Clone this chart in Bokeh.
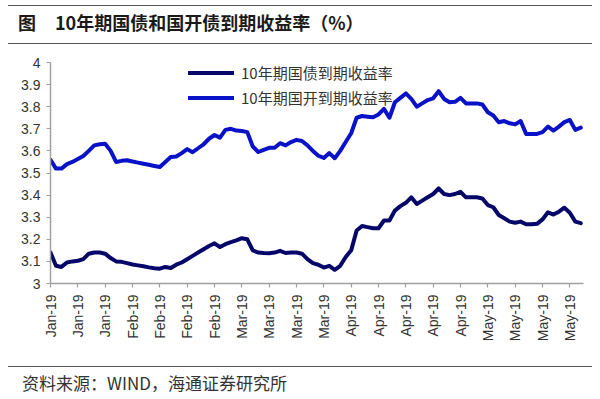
import math
from bokeh.plotting import figure
from bokeh.models import Range1d, FixedTicker, Div, Legend, LegendItem
from bokeh.layouts import column
from bokeh.embed import file_html
from bokeh.resources import INLINE

# ---- data ----
tick_labels = ["Jan-19", "Jan-19", "Jan-19", "Feb-19", "Feb-19", "Feb-19", "Feb-19",
               "Mar-19", "Mar-19", "Mar-19", "Mar-19", "Apr-19", "Apr-19", "Apr-19",
               "Apr-19", "Apr-19", "May-19", "May-19", "May-19", "May-19"]
tick_step = 5

gov_10y = [3.14, 3.08, 3.075, 3.095, 3.10, 3.103, 3.11, 3.135, 3.14, 3.14,
           3.135, 3.115, 3.10, 3.098, 3.092, 3.086, 3.082, 3.078, 3.073, 3.069,
           3.067, 3.075, 3.07, 3.085, 3.095, 3.11, 3.125, 3.14, 3.155, 3.17,
           3.182, 3.165, 3.178, 3.187, 3.195, 3.205, 3.20, 3.15, 3.14, 3.138,
           3.137, 3.14, 3.148, 3.138, 3.14, 3.14, 3.135, 3.11, 3.092, 3.085,
           3.072, 3.08, 3.062, 3.08, 3.12, 3.15, 3.24, 3.26, 3.255, 3.25,
           3.25, 3.285, 3.285, 3.33, 3.35, 3.365, 3.39, 3.36, 3.375, 3.39,
           3.405, 3.43, 3.405, 3.40, 3.405, 3.415, 3.39, 3.39, 3.39, 3.385,
           3.355, 3.345, 3.31, 3.295, 3.28, 3.275, 3.28, 3.268, 3.268, 3.27,
           3.29, 3.322, 3.312, 3.325, 3.343, 3.32, 3.28, 3.273]

cdb_10y = [3.56, 3.52, 3.52, 3.54, 3.55, 3.563, 3.577, 3.60, 3.625, 3.63,
           3.632, 3.60, 3.55, 3.555, 3.558, 3.552, 3.547, 3.542, 3.537, 3.532,
           3.527, 3.55, 3.572, 3.575, 3.59, 3.608, 3.594, 3.612, 3.63, 3.655,
           3.672, 3.66, 3.695, 3.70, 3.692, 3.69, 3.685, 3.62, 3.595, 3.605,
           3.614, 3.614, 3.635, 3.625, 3.64, 3.65, 3.645, 3.625, 3.60, 3.578,
           3.568, 3.59, 3.567, 3.60, 3.64, 3.68, 3.75, 3.758, 3.755, 3.752,
           3.765, 3.79, 3.75, 3.82, 3.84, 3.86, 3.835, 3.80, 3.815, 3.83,
           3.838, 3.87, 3.835, 3.82, 3.822, 3.84, 3.815, 3.815, 3.815, 3.81,
           3.775, 3.76, 3.73, 3.735, 3.725, 3.72, 3.735, 3.677, 3.677, 3.677,
           3.685, 3.71, 3.692, 3.71, 3.73, 3.74, 3.695, 3.705]

series_names = ["10年期国债到期收益率", "10年期国开到期收益率"]
title_text = "10年期国债和国开债到期收益率（%）"
source_text = "资料来源：WIND，海通证券研究所"

x = list(range(len(gov_10y)))

p = figure(width=600, height=322, output_backend="svg", toolbar_location=None,
           x_range=Range1d(0, 97.5), y_range=Range1d(3, 4),
           min_border_left=50, min_border_right=17, min_border_top=18, min_border_bottom=83)
p.outline_line_color = None
p.grid.grid_line_color = None
p.background_fill_color = "white"

r1 = p.line(x, gov_10y, line_color="#07076a", line_width=4, line_join="round", line_cap="round")
r2 = p.line(x, cdb_10y, line_color="#0a12c8", line_width=4, line_join="round", line_cap="round")

ticks = [i * tick_step for i in range(len(tick_labels))]
p.xaxis.ticker = FixedTicker(ticks=ticks)
p.xaxis.major_label_overrides = {t: lab for t, lab in zip(ticks, tick_labels)}
p.xaxis.major_label_orientation = math.pi / 2
yt = [3 + i * 0.1 for i in range(11)]
p.yaxis.ticker = FixedTicker(ticks=yt)
p.yaxis.major_label_overrides = {v: ("3" if i == 0 else ("4" if i == 10 else f"{v:.1f}")) for i, v in enumerate(yt)}

for ax in (p.xaxis, p.yaxis):
    ax.axis_line_color = "#a0a0a0"
    ax.axis_line_width = 1.5
    ax.major_tick_line_color = "#a0a0a0"
    ax.major_tick_line_width = 1.2
    ax.major_tick_in = 0
    ax.major_tick_out = 4
    ax.minor_tick_line_color = None
    ax.major_label_text_font = "Liberation Sans"
    ax.major_label_text_font_size = "14px"
    ax.major_label_text_color = "#333333"
p.xaxis.major_label_standoff = 7
p.yaxis.major_label_standoff = 6

legend = Legend(items=[LegendItem(label=series_names[0], renderers=[r1]),
                       LegendItem(label=series_names[1], renderers=[r2])],
                location=(138, 175), orientation="vertical",
                background_fill_alpha=0, border_line_alpha=0,
                padding=0, margin=0, spacing=4,
                glyph_width=46, glyph_height=19, label_height=19,
                label_standoff=7,
                label_text_font="Noto Sans CJK SC", label_text_font_size="15px",
                label_text_color="#333333")
p.add_layout(legend, "center")

title_div = Div(
    text=('<span>图</span><span style="margin-left:19px">' + title_text + '</span>'),
    width=584, height=39, margin=(5, 8, 0, 8),
    styles={"border-top": "1px solid #555", "border-bottom": "1px solid #555",
            "box-sizing": "border-box", "font-family": "'Noto Sans CJK SC', 'Liberation Sans'",
            "font-size": "18px", "font-weight": "bold", "color": "#1a1a1a",
            "line-height": "32px", "padding-left": "10px", "overflow": "hidden"})

source_div = Div(
    text=source_text, width=584, height=33, margin=(0, 8, 0, 8),
    styles={"border-top": "1px solid #555", "box-sizing": "border-box",
            "font-family": "'Noto Sans CJK SC', 'Liberation Sans'",
            "font-size": "17px", "color": "#333333", "line-height": "32px",
            "padding-left": "14px", "overflow": "hidden"})

layout = column(title_div, p, source_div, spacing=0)

open("out.html", "w").write(file_html(layout, INLINE))
